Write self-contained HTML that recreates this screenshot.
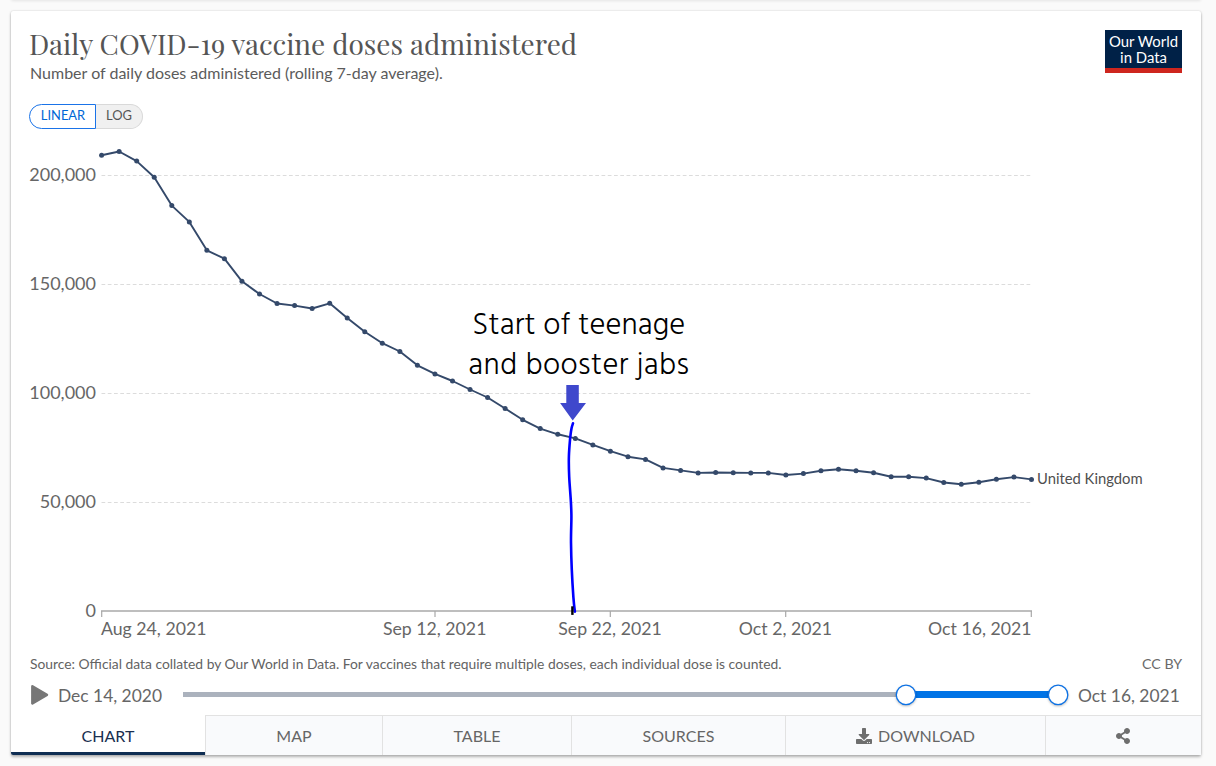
<!DOCTYPE html>
<html><head><meta charset="utf-8"><title>Daily COVID-19 vaccine doses administered</title>
<style>
html,body{margin:0;padding:0;}
body{width:1216px;height:766px;overflow:hidden;background:#fafafa;position:relative;font-family:"Lato","Liberation Sans",sans-serif;}
.abs{position:absolute;white-space:nowrap;}
#topbar{position:absolute;left:11px;top:-60px;width:1190px;height:60px;background:#f9f9f9;box-shadow:0 1px 3px rgba(0,0,0,.09);border-radius:2px;}
#card{position:absolute;left:11px;top:11px;width:1190px;height:744px;background:#fff;border-radius:2px;box-shadow:0 0 2px rgba(0,0,0,.18),0 2px 3px rgba(0,0,0,.28);}
#title{left:29px;top:26px;font-family:"Playfair Display","Liberation Serif",serif;font-size:28px;line-height:36px;color:#555;letter-spacing:0;}
#subtitle{left:30px;top:64px;font-size:16px;line-height:18px;color:#5b5b5b;}
#logo{left:1105px;top:30px;width:77px;height:38px;background:#002147;border-bottom:5px solid #ce261e;color:#fff;font-size:14.9px;line-height:16.1px;text-align:center;}
#logo div{position:absolute;left:0;width:77px;line-height:16px;}
#logo .l1{top:2.5px;}
#logo .l2{top:19.3px;}
#toggle{left:29px;top:104px;height:25px;}
#lin{position:absolute;left:0;top:0;width:65px;height:23px;border:1px solid #1a73e8;border-radius:13px 0 0 13px;color:#0067d6;font-size:12.9px;line-height:21px;text-indent:1px;text-align:center;background:#fff;z-index:2}
#log{position:absolute;left:67px;top:0;width:46px;height:23px;border:1px solid #d9d9d9;border-left:none;border-radius:0 13px 13px 0;background:#f0f0f0;color:#555;font-size:12.9px;line-height:21px;text-align:center;}
.ylab{font-size:18px;color:#666;text-align:right;width:80px;left:16px;line-height:20px;}
.xlab{font-size:17.7px;color:#666;line-height:20px;width:200px;text-align:center;}
#ann{left:443.8px;top:307px;width:270px;text-align:center;font-family:"Hind","Carlito","Liberation Sans",sans-serif;font-weight:300;font-size:30.6px;letter-spacing:0.12px;line-height:40px;color:#000;}
#uk{left:1037px;top:469px;font-size:14.8px;color:#4f4f4f;line-height:18px;}
#source{left:30px;top:656px;font-size:13.85px;color:#636363;line-height:16px;}
#ccby{left:1142px;top:656px;font-size:14.2px;color:#6a6a6a;line-height:16px;}
.tl{font-size:17.4px;color:#666;line-height:22px;}
#tabs{position:absolute;left:11px;top:715px;width:1189px;height:40px;}
.tab{position:absolute;top:0;height:39px;background:#f9fafc;border-top:1px solid #e2e2e2;border-left:1px solid #e2e2e2;color:#666;font-size:16px;line-height:40px;text-align:center;}
.tab.act{background:#fff;border:none;border-bottom:3px solid #0f2e53;height:37px;border-radius:0 0 0 2px;color:#192f50;line-height:42px;}
</style></head><body>
<div id="topbar"></div>
<div id="card"></div>

<div class="abs" id="title">Daily COVID-19 vaccine doses administered</div>
<div class="abs" id="subtitle">Number of daily doses administered (rolling 7-day average).</div>
<div class="abs" id="logo"><div class="l1">Our World</div><div class="l2">in Data</div></div>

<div class="abs" id="toggle"><div id="lin">LINEAR</div><div id="log">LOG</div></div>

<svg class="abs" style="left:0;top:0" width="1216" height="766" viewBox="0 0 1216 766">
  <g stroke="#dcdcdc" stroke-width="1" stroke-dasharray="3.75,2.5" fill="none">
    <line x1="101.5" y1="175.5" x2="1031" y2="175.5"/>
    <line x1="101.5" y1="284.5" x2="1031" y2="284.5"/>
    <line x1="101.5" y1="393.5" x2="1031" y2="393.5"/>
    <line x1="101.5" y1="502.5" x2="1031" y2="502.5"/>
  </g>
  <g stroke="#a8a8a8" fill="none">
    <line x1="101" y1="611" x2="1032" y2="611" stroke-width="1.7"/>
    <line x1="101.7" y1="611" x2="101.7" y2="617" stroke-width="1.2"/>
    <line x1="435" y1="611" x2="435" y2="617" stroke-width="1.2"/>
    <line x1="610.3" y1="611" x2="610.3" y2="617" stroke-width="1.2"/>
    <line x1="785.7" y1="611" x2="785.7" y2="617" stroke-width="1.2"/>
    <line x1="1031.3" y1="611" x2="1031.3" y2="617" stroke-width="1.2"/>
  </g>
  <polyline fill="none" stroke="#34496a" stroke-width="1.9" stroke-linejoin="round" points="101.6,155.3 119.14,151.5 136.69,161.1 154.24,177.2 171.78,205.6 189.32,221.9 206.87,250.3 224.42,258.7 241.96,281.3 259.5,294.0 277.05,303.5 294.6,305.6 312.14,308.5 329.69,303.3 347.23,317.9 364.77,331.7 382.32,343.2 399.87,351.5 417.41,365.3 434.96,373.9 452.5,381.0 470.05,389.5 487.59,397.5 505.13,408.5 522.68,419.8 540.23,428.6 557.77,434.3 575.32,438.4 592.86,444.9 610.41,451.2 627.95,456.7 645.5,459.4 663.04,467.9 680.59,470.4 698.13,472.9 715.68,472.5 733.22,472.7 750.77,472.9 768.31,472.9 785.86,475.0 803.4,473.6 820.95,470.8 838.49,469.3 856.04,470.7 873.58,472.8 891.13,476.7 908.67,476.7 926.22,478.1 943.76,482.5 961.31,484.3 978.85,482.3 996.4,479.3 1013.94,477.1 1031.49,479.4"/>
  <g fill="#34496a">
<circle cx="101.6" cy="155.3" r="2.5"/><circle cx="119.14" cy="151.5" r="2.5"/><circle cx="136.69" cy="161.1" r="2.5"/><circle cx="154.24" cy="177.2" r="2.5"/><circle cx="171.78" cy="205.6" r="2.5"/><circle cx="189.32" cy="221.9" r="2.5"/><circle cx="206.87" cy="250.3" r="2.5"/><circle cx="224.42" cy="258.7" r="2.5"/><circle cx="241.96" cy="281.3" r="2.5"/><circle cx="259.5" cy="294.0" r="2.5"/><circle cx="277.05" cy="303.5" r="2.5"/><circle cx="294.6" cy="305.6" r="2.5"/><circle cx="312.14" cy="308.5" r="2.5"/><circle cx="329.69" cy="303.3" r="2.5"/><circle cx="347.23" cy="317.9" r="2.5"/><circle cx="364.77" cy="331.7" r="2.5"/><circle cx="382.32" cy="343.2" r="2.5"/><circle cx="399.87" cy="351.5" r="2.5"/><circle cx="417.41" cy="365.3" r="2.5"/><circle cx="434.96" cy="373.9" r="2.5"/><circle cx="452.5" cy="381.0" r="2.5"/><circle cx="470.05" cy="389.5" r="2.5"/><circle cx="487.59" cy="397.5" r="2.5"/><circle cx="505.13" cy="408.5" r="2.5"/><circle cx="522.68" cy="419.8" r="2.5"/><circle cx="540.23" cy="428.6" r="2.5"/><circle cx="557.77" cy="434.3" r="2.5"/><circle cx="575.32" cy="438.4" r="2.5"/><circle cx="592.86" cy="444.9" r="2.5"/><circle cx="610.41" cy="451.2" r="2.5"/><circle cx="627.95" cy="456.7" r="2.5"/><circle cx="645.5" cy="459.4" r="2.5"/><circle cx="663.04" cy="467.9" r="2.5"/><circle cx="680.59" cy="470.4" r="2.5"/><circle cx="698.13" cy="472.9" r="2.5"/><circle cx="715.68" cy="472.5" r="2.5"/><circle cx="733.22" cy="472.7" r="2.5"/><circle cx="750.77" cy="472.9" r="2.5"/><circle cx="768.31" cy="472.9" r="2.5"/><circle cx="785.86" cy="475.0" r="2.5"/><circle cx="803.4" cy="473.6" r="2.5"/><circle cx="820.95" cy="470.8" r="2.5"/><circle cx="838.49" cy="469.3" r="2.5"/><circle cx="856.04" cy="470.7" r="2.5"/><circle cx="873.58" cy="472.8" r="2.5"/><circle cx="891.13" cy="476.7" r="2.5"/><circle cx="908.67" cy="476.7" r="2.5"/><circle cx="926.22" cy="478.1" r="2.5"/><circle cx="943.76" cy="482.5" r="2.5"/><circle cx="961.31" cy="484.3" r="2.5"/><circle cx="978.85" cy="482.3" r="2.5"/><circle cx="996.4" cy="479.3" r="2.5"/><circle cx="1013.94" cy="477.1" r="2.5"/><circle cx="1031.49" cy="479.4" r="2.5"/>
  </g>
  <!-- annotation arrow -->
  <path d="M566.3,385 H578.8 V403 H586 L572.7,420.6 L560.1,403 H566.3 Z" fill="#3f48cc"/>
  <path d="M573.0,423.3 C572.8,424.1 572.1,425.6 571.6,428 C571.1,430.4 570.7,432.9 570.2,437.6 C569.8,442.3 569.1,449.7 568.9,456.2 C568.7,462.7 568.9,469.9 569.2,476.8 C569.5,483.7 570.2,490.9 570.6,497.3 C571.0,503.7 571.3,507.5 571.4,515 C571.5,522.5 570.9,533.2 571.0,542.4 C571.1,551.5 571.4,560.8 571.8,569.9 C572.2,579.0 572.9,590.3 573.4,597.3 C573.9,604.2 574.6,609.2 574.9,611.6" fill="none" stroke="#0000ff" stroke-width="2.6" stroke-linecap="round"/>
  <rect x="571.2" y="606.3" width="2.4" height="8.6" fill="#000"/>
  <!-- timeline -->
  <rect x="183" y="692" width="724" height="5" fill="#abb2bd"/>
  <rect x="905.7" y="691" width="152.2" height="7" fill="#0073e6"/>
  <g fill="#fff" stroke="#0e72e4" stroke-width="1.3">
    <circle cx="906" cy="694.9" r="9.7" style="filter:drop-shadow(0 1px 1px rgba(0,0,0,.25))"/>
    <circle cx="1058.1" cy="694.9" r="9.7" style="filter:drop-shadow(0 1px 1px rgba(0,0,0,.25))"/>
  </g>
  <path d="M32.4,686.4 L46.9,694.9 L32.4,703.4 Z" fill="#777" stroke="#777" stroke-width="2.6" stroke-linejoin="round"/>
</svg>

<div class="abs ylab" style="top:164px">200,000</div>
<div class="abs ylab" style="top:273px">150,000</div>
<div class="abs ylab" style="top:382px">100,000</div>
<div class="abs ylab" style="top:491px">50,000</div>
<div class="abs ylab" style="top:600px">0</div>

<div class="abs xlab" style="left:101px;top:619px;text-align:left">Aug 24, 2021</div>
<div class="abs xlab" style="left:334.7px;top:619px">Sep 12, 2021</div>
<div class="abs xlab" style="left:510px;top:619px">Sep 22, 2021</div>
<div class="abs xlab" style="left:685.4px;top:619px">Oct 2, 2021</div>
<div class="abs xlab" style="left:831.5px;top:619px;text-align:right">Oct 16, 2021</div>

<div class="abs" id="ann">Start of teenage<br><span style="letter-spacing:0.42px">and booster jabs</span></div>
<div class="abs" id="uk">United Kingdom</div>

<div class="abs" id="source">Source: Official data collated by Our World in Data. For vaccines that require multiple doses, each individual dose is counted.</div>
<div class="abs" id="ccby">CC BY</div>

<div class="abs tl" style="left:58px;top:685px">Dec 14, 2020</div>
<div class="abs tl" style="left:1078px;top:685px">Oct 16, 2021</div>

<div id="tabs">
  <div class="tab act" style="left:0;width:194px;">CHART</div>
  <div class="tab" style="left:194px;width:176px;">MAP</div>
  <div class="tab" style="left:371px;width:188px;">TABLE</div>
  <div class="tab" style="left:560px;width:213px;">SOURCES</div>
  <div class="tab" style="left:774px;width:259px;"><svg width="16" height="16" viewBox="0 0 512 512" style="vertical-align:-2px;margin-right:6px"><path fill="#6e6e6e" d="M216 0h80c13.3 0 24 10.7 24 24v168h87.7c17.8 0 26.7 21.5 14.1 34.1L269.7 378.3c-7.5 7.5-19.8 7.5-27.3 0L90.1 226.1c-12.6-12.6-3.7-34.1 14.1-34.1H192V24c0-13.3 10.7-24 24-24zm296 376v112c0 13.3-10.7 24-24 24H24c-13.3 0-24-10.7-24-24V376c0-13.3 10.7-24 24-24h146.7l49 49c20.1 20.1 52.5 20.1 72.6 0l49-49H488c13.3 0 24 10.7 24 24zm-124 88c0-11-9-20-20-20s-20 9-20 20 9 20 20 20 20-9 20-20zm64 0c0-11-9-20-20-20s-20 9-20 20 9 20 20 20 20-9 20-20z"/></svg>DOWNLOAD</div>
  <div class="tab" style="left:1034px;width:155px;"><svg width="14" height="16" viewBox="0 0 448 512" style="vertical-align:-2px;margin-left:-2px"><path fill="#6e6e6e" d="M352 320c-22.608 0-43.387 7.819-59.79 20.895l-102.486-64.054a96.551 96.551 0 0 0 0-41.683l102.486-64.054C308.613 184.181 329.392 192 352 192c53.019 0 96-42.981 96-96S405.019 0 352 0s-96 42.981-96 96c0 7.158.79 14.13 2.276 20.841L155.79 180.895C139.387 167.819 118.608 160 96 160c-53.019 0-96 42.981-96 96s42.981 96 96 96c22.608 0 43.387-7.819 59.79-20.895l102.486 64.054A96.301 96.301 0 0 0 256 416c0 53.019 42.981 96 96 96s96-42.981 96-96-42.981-96-96-96z"/></svg></div>
</div>
</body></html>
